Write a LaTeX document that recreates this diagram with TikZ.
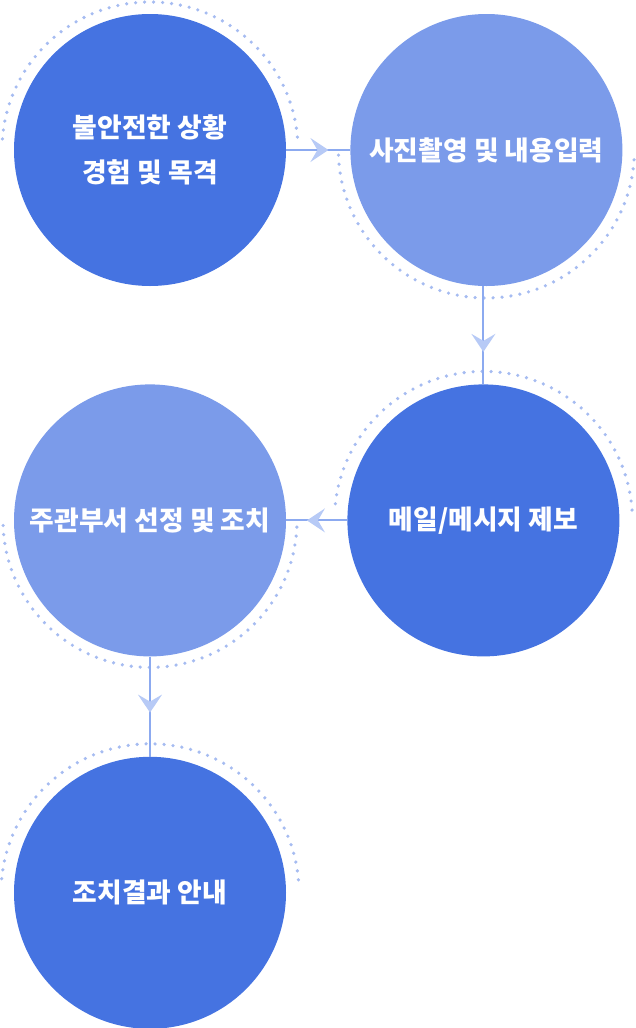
\documentclass[tikz,border=0pt]{standalone}
\usepackage{fontspec}
\newfontfamily\krfont{Noto Sans CJK KR}
\usetikzlibrary{positioning, arrows.meta, decorations.markings}
\definecolor{darkblue}{HTML}{4573E1}
\definecolor{lightblue}{HTML}{7B9BEA}
\definecolor{linec}{HTML}{8CAAF0}
\definecolor{tipc}{HTML}{B7CAF6}
\definecolor{dotc}{HTML}{A6BCF1}
\tikzset{
    stepnode/.style = {circle, inner sep=0pt, minimum size=272pt,
        align=center, text=white,
        font=\krfont\bfseries\fontsize{26.8}{45}\selectfont},
    darkstep/.style = {stepnode, fill=darkblue},
    lightstep/.style = {stepnode, fill=lightblue},
    ringdots/.style = {dotc, line width=3.6pt, line cap=round,
        dash pattern=on 0pt off 9pt},
    flow/.style = {draw=linec, line width=2pt, postaction=decorate,
        decoration={markings, mark=at position #1 with
            {\arrow[color=tipc]{Stealth[length=18pt,width=24pt,inset=7pt]}}}},
}

\begin{document}
\begin{tikzpicture}
            \useasboundingbox (0,0) rectangle (635pt,-1028pt);
            \node (report) [darkstep] at (150pt,-150pt) {불안전한 상황\\경험 및 목격};
            \node (photo) [lightstep, right=64pt of report] {사진촬영 및 내용입력};
            \node (mail) [darkstep, below=98pt of photo, xshift=-3pt] {메일/메시지 제보};
            \node (dept) [lightstep, left=61pt of mail] {주관부서 선정 및 조치};
            \node (notice) [darkstep, below=100pt of dept] {조치결과 안내};
            % dotted half rings
            \draw[ringdots] ([shift={(5:148pt)}]report.center) arc[start angle=5, end angle=178, radius=148pt];
            \draw[ringdots] ([shift={(182:148pt)}]photo.center) arc[start angle=182, end angle=358, radius=148pt];
            \draw[ringdots] ([shift={(4:149pt)}]mail.center) arc[start angle=4, end angle=176, radius=149pt];
            \draw[ringdots] ([shift={(182:147pt)}]dept.center) arc[start angle=182, end angle=358, radius=147pt];
            \draw[ringdots] ([shift={(5:149pt)}]notice.center) arc[start angle=5, end angle=175, radius=149pt];
            % connectors
            \draw[flow=0.66] (report) -- (photo);
            \draw[flow=0.67] (mail.north |- photo.south) -- (mail.north);
            \draw[flow=0.66] (mail) -- (dept);
            \draw[flow=0.56] (dept) -- (notice);
\end{tikzpicture}
\end{document}
